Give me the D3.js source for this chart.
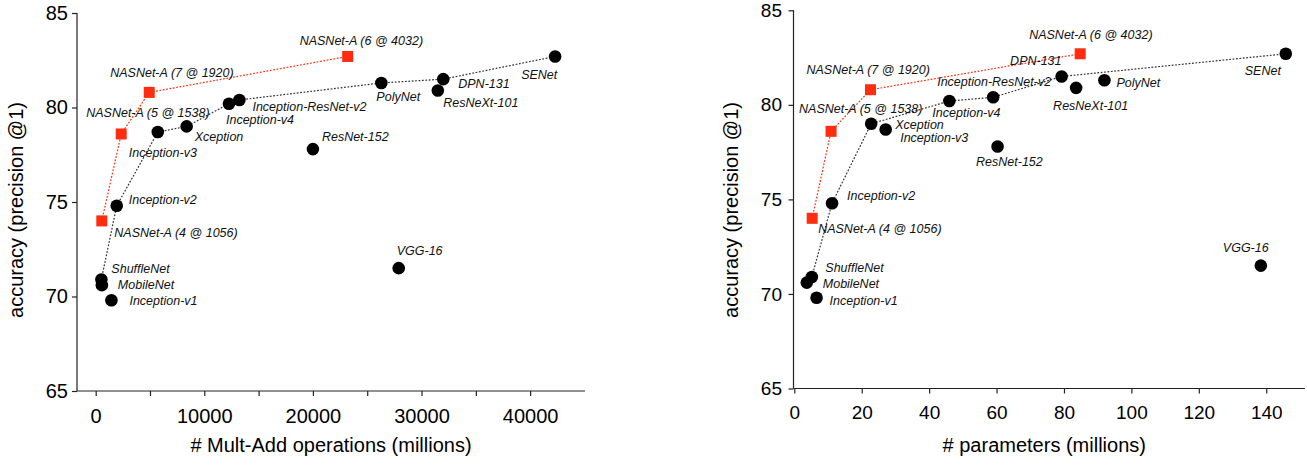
<!DOCTYPE html>
<html>
<head>
<meta charset="utf-8">
<script src="https://cdn.jsdelivr.net/npm/d3@7"></script>
<style>
  html, body { margin: 0; padding: 0; background: #fff; }
  svg { display: block; font-family: "Liberation Sans", Arial, Helvetica, sans-serif; }
</style>
</head>
<body>
<svg id="chart" width="1307" height="465"></svg>
<script>
// ---------------- DATA ----------------
const models = ["ShuffleNet", "MobileNet", "Inception-v1", "Inception-v2", "Inception-v3",
  "Xception", "Inception-v4", "Inception-ResNet-v2", "ResNet-152", "PolyNet",
  "DPN-131", "ResNeXt-101", "SENet", "VGG-16"];
const modelMultAdds = [524, 569, 1448, 1937, 5718, 8375, 12270, 13233, 20000, 26300, 32000, 31500, 42300, 27900];
const modelParams = [5.2, 3.7, 6.6, 11.2, 27.1, 22.8, 46.0, 59.0, 60.3, 92.0, 79.3, 83.6, 145.8, 138.4];
const modelAccuracy = [70.9, 70.6, 69.8, 74.8, 78.7, 79.0, 80.2, 80.4, 77.8, 81.3, 81.5, 80.9, 82.7, 71.5];

const nasnetModels = ["NASNet-A (4 @ 1056)", "NASNet-A (5 @ 1538)", "NASNet-A (7 @ 1920)", "NASNet-A (6 @ 4032)"];
const nasnetMultAdds = [564, 2350, 4930, 23200];
const nasnetParams = [5.3, 10.9, 22.6, 84.8];
const nasnetAccuracy = [74.0, 78.6, 80.8, 82.7];

const frontierMultAdds = ["ShuffleNet", "Inception-v2", "Inception-v3", "Xception", "Inception-v4",
  "Inception-ResNet-v2", "PolyNet", "DPN-131", "SENet"];
const frontierParams = ["ShuffleNet", "Inception-v2", "Xception", "Inception-v4",
  "Inception-ResNet-v2", "DPN-131", "SENet"];

const yTicks = [65, 70, 75, 80, 85];
const xTicksMultAdds = [0, 5000, 10000, 15000, 20000, 25000, 30000, 35000, 40000];
const xTickLabelsMultAdds = [0, 10000, 20000, 30000, 40000];
const xTicksParams = [0, 20, 40, 60, 80, 100, 120, 140];

const xTitleMultAdds = "# Mult-Add operations (millions)";
const xTitleParams = "# parameters (millions)";
const yTitle = "accuracy (precision @1)";

// ---------------- LAYOUT (label offsets in px from the mark) ----------------
const labelOffsetMult = {
  "NASNet-A (4 @ 1056)": [12.5, 16], "NASNet-A (5 @ 1538)": [-35, -17],
  "NASNet-A (7 @ 1920)": [-39, -15], "NASNet-A (6 @ 4032)": [-48, -11.5],
  "ShuffleNet": [10, -6.5], "MobileNet": [16, 4], "Inception-v1": [18, 5],
  "Inception-v2": [12, -1.5], "Inception-v3": [-29, 25], "Xception": [8, 15],
  "Inception-v4": [-3, 20], "Inception-ResNet-v2": [13, 11], "ResNet-152": [9, -8.5],
  "PolyNet": [-5, 18], "DPN-131": [15, 9], "ResNeXt-101": [5.5, 17],
  "SENet": [-34, 22.5], "VGG-16": [-2, -13]
};
const labelOffsetParams = {
  "NASNet-A (4 @ 1056)": [6, 15], "NASNet-A (5 @ 1538)": [-32, -18],
  "NASNet-A (7 @ 1920)": [-64, -16], "NASNet-A (6 @ 4032)": [-51, -14.5],
  "ShuffleNet": [13.5, -4.5], "MobileNet": [16, 5], "Inception-v1": [13, 7],
  "Inception-v2": [15, -3], "Inception-v3": [14.5, 13], "Xception": [24, 5.5],
  "Inception-v4": [-17, 16], "Inception-ResNet-v2": [-56, -11], "ResNet-152": [-21.5, 20],
  "DPN-131": [-51.5, -11.5], "ResNeXt-101": [-23, 22], "PolyNet": [12, 7],
  "SENet": [-41, 21.5], "VGG-16": [-38, -14]
};

const RED = "#ff2d10";
const svg = d3.select("#chart");

function drawPanel(cfg) {
  const x = d3.scaleLinear().domain(cfg.xDomain).range(cfg.xRange);
  const y = d3.scaleLinear().domain([65, 85]).range(cfg.yRange);
  const g = svg.append("g");

  // axes
  const xAxis = d3.axisBottom(x).tickValues(cfg.xTicks).tickSize(5).tickPadding(cfg.xPad)
    .tickFormat(d => cfg.xLabels.includes(d) ? String(d) : "");
  const gx = g.append("g").attr("transform", `translate(0,${cfg.yRange[0]})`).call(xAxis);
  const yAxis = d3.axisLeft(y).tickValues(yTicks).tickSize(5).tickPadding(cfg.yPad).tickFormat(d3.format("d"));
  const gy = g.append("g").attr("transform", `translate(${cfg.xRange[0]},0)`).call(yAxis);
  [gx, gy].forEach(a => {
    a.select(".domain").attr("stroke", "#222").attr("stroke-width", 1.2);
    a.selectAll(".tick line").attr("stroke", "#222").attr("stroke-width", 1.2);
    a.selectAll(".tick text").attr("fill", "#000").style("font-size", cfg.tickFont + "px")
      .style("font-family", "'Liberation Sans', Arial, sans-serif");
  });
  // make the domain lines plain (no outer ticks)
  gx.select(".domain").attr("d", `M${cfg.xRange[0]},0H${cfg.xRange[1]}`);
  gy.select(".domain").attr("d", `M0,${cfg.yRange[0]}V${cfg.yRange[1]}`);

  // titles
  g.append("text").attr("x", (cfg.xRange[0] + cfg.xRange[1]) / 2 + cfg.xTitleShift).attr("y", 452)
    .attr("text-anchor", "middle").style("font-size", "20px").text(cfg.xTitle);
  g.append("text").attr("transform", `translate(${cfg.yTitleX},${210}) rotate(-90)`)
    .attr("text-anchor", "middle").style("font-size", "20px").text(yTitle);

  // frontier lines
  const idx = name => models.indexOf(name);
  const line = d3.line().x(d => d[0]).y(d => d[1]);
  const blackPts = cfg.frontier.map(n => [x(cfg.xVals[idx(n)]), y(modelAccuracy[idx(n)])]);
  g.append("path").attr("d", line(blackPts)).attr("fill", "none").attr("stroke", "#333")
    .attr("stroke-width", 1.2).attr("stroke-dasharray", "1.8,1.6");
  const redPts = nasnetModels.map((n, i) => [x(cfg.nasVals[i]), y(nasnetAccuracy[i])]);
  g.append("path").attr("d", line(redPts)).attr("fill", "none").attr("stroke", RED)
    .attr("stroke-width", 1.2).attr("stroke-dasharray", "1.8,1.6");

  // markers
  g.selectAll("circle.m").data(models).enter().append("circle")
    .attr("cx", (d, i) => x(cfg.xVals[i])).attr("cy", (d, i) => y(modelAccuracy[i]))
    .attr("r", 6.3).attr("fill", "#000");
  const s = 11;
  g.selectAll("rect.n").data(nasnetModels).enter().append("rect")
    .attr("x", (d, i) => x(cfg.nasVals[i]) - s / 2).attr("y", (d, i) => y(nasnetAccuracy[i]) - s / 2)
    .attr("width", s).attr("height", s).attr("fill", RED);

  // labels
  const lab = g.append("g").style("font-size", "12.5px").style("font-style", "italic").attr("fill", "#111");
  models.forEach((n, i) => {
    const o = cfg.offsets[n];
    lab.append("text").attr("x", x(cfg.xVals[i]) + o[0]).attr("y", y(modelAccuracy[i]) + o[1]).text(n);
  });
  nasnetModels.forEach((n, i) => {
    const o = cfg.offsets[n];
    lab.append("text").attr("x", x(cfg.nasVals[i]) + o[0]).attr("y", y(nasnetAccuracy[i]) + o[1]).text(n);
  });
}

drawPanel({
  xDomain: [-1720, 45050], xRange: [77, 585], yRange: [391, 13],
  xTicks: xTicksMultAdds, xLabels: xTickLabelsMultAdds, xPad: 13, yPad: 4, tickFont: 20,
  xTitle: xTitleMultAdds, xTitleShift: 0, yTitleX: 23,
  xVals: modelMultAdds, nasVals: nasnetMultAdds, frontier: frontierMultAdds, offsets: labelOffsetMult
});
drawPanel({
  xDomain: [-0.24, 151.5], xRange: [793.5, 1305], yRange: [388.5, 10.3],
  xTicks: xTicksParams, xLabels: xTicksParams, xPad: 12.5, yPad: 6.5, tickFont: 19,
  xTitle: xTitleParams, xTitleShift: -5, yTitleX: 737.5,
  xVals: modelParams, nasVals: nasnetParams, frontier: frontierParams, offsets: labelOffsetParams
});
</script>
</body>
</html>
